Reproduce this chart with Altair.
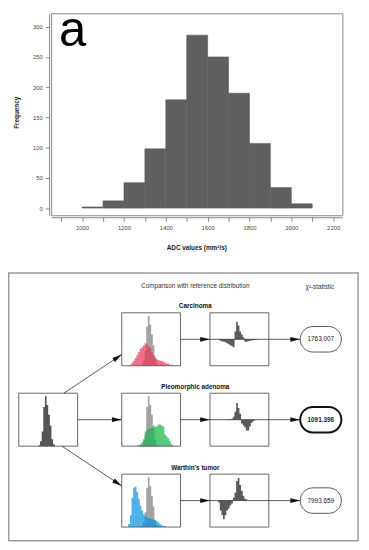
import math
import altair as alt
import pandas as pd

# ---------------- data ----------------
# Panel a: histogram of reference ADC values (bin width 100)
adc_bin_start = [1000, 1100, 1200, 1300, 1400, 1500, 1600, 1700, 1800, 1900, 2000]
adc_counts = [2, 12, 42, 98, 179, 286, 250, 190, 107, 34, 7]

# Panel b: miniature histograms (bin index, relative height)
ref_bin = [12, 13, 14, 15, 16, 17, 18, 19, 20, 21]
ref_val = [1, 5, 15, 40, 51, 42, 32, 21, 7, 2]

carc_bin = list(range(5, 31))
carc_val = [1, 3, 5, 8, 11, 14, 17, 19, 21, 23, 22, 20, 18, 14, 11, 9, 7, 6, 5, 5, 4, 3, 2, 2, 1, 1]

pleo_bin = list(range(9, 32))
pleo_val = [0.5, 1, 2, 4, 7, 12, 16, 18, 18, 19, 19, 20, 20, 22, 22, 21, 20, 12, 10, 8, 5, 2, 1]

wart_bin = list(range(4, 27))
wart_val = [3, 12, 30, 40, 41, 36, 29, 22, 17, 13, 11, 10, 9, 9, 8, 8, 7, 6, 5, 3, 2, 1, 1]

carc_diff_bin = list(range(5, 30))
carc_diff_val = [-0.5, -1.5, -2, -2.5, -3, -4, -5, -6, -7, -8, 8, 18, 14, 8, 5, 2,
                 -2.5, -2.5, -2, -1.5, -1.2, -1, -0.7, -0.5, -0.3]

pleo_diff_bin = list(range(10, 28))
pleo_diff_val = [-0.3, -0.5, -0.3, 1, 3, 8, 17, 12, 6, -4, -6, -8, -11, -11, -7, -3, -1.5, -0.5]

wart_diff_bin = list(range(5, 23))
wart_diff_val = [-2, -10, -15, -19, -15, -10, -8, -5, -3, 3, 8, 20, 23, 16, 10, 5, 2, 1]

chi2_values = ["1763.007", "1091.396", "7993.659"]
row_titles = ["Carcinoma", "Pleomorphic adenoma", "Warthin's tumor"]
x_ticks = list(range(900, 2201, 100))
y_ticks = [0, 50, 100, 150, 200, 250, 300]

# ---------------- layout (view pixel coordinates) ----------------
FONT = "Liberation Sans"
W, H = 297, 206
BOX_W, BOX_H = 60, 54
ROW_TOP = [305.5, 387.5, 470.0]
MID_X, RIGHT_X, LEFT_X = 72, 162, -33
OVAL_X0, OVAL_X1, OVAL_H = 254, 296, 26

df_a = pd.DataFrame({"lo": adc_bin_start,
                     "hi": [b + 100 for b in adc_bin_start],
                     "count": adc_counts})

hist_a = alt.Chart(df_a).mark_rect(color="#5f5f5f", stroke="#5f5f5f", strokeWidth=0.6).encode(
    x=alt.X("lo:Q",
            scale=alt.Scale(domain=[852, 2244], nice=False, zero=False),
            axis=alt.Axis(values=x_ticks, format="d",
                          labelExpr="datum.value % 200 == 0 ? datum.label : ''",
                          title="ADC values (mm²/s)", offset=2, tickSize=4,
                          labelPadding=4, titleX=148, titleY=30.5,
                          titleBaseline="middle", titleAlign="center",
                          labelFlush=False, labelOverlap=False)),
    x2="hi:Q",
    y=alt.Y("count:Q",
            scale=alt.Scale(domain=[-11.8, 322.2], nice=False, zero=False),
            axis=alt.Axis(values=y_ticks, title="Frequency", offset=2, tickSize=4,
                          labelPadding=3, titleX=-33, titleY=101, titleAngle=270,
                          titleBaseline="middle", titleAlign="center",
                          labelFlush=False, labelOverlap=False)),
    y2=alt.datum(0),
)


def one(text, x, y, size, weight="normal", align="center", baseline="middle", color="#222"):
    return alt.Chart(alt.Data(values=[{}])).mark_text(
        text=text, font=FONT, fontSize=size, fontWeight=weight, align=align,
        baseline=baseline, color=color
    ).encode(x=alt.value(x), y=alt.value(y))


label_a = one("a", 8, 33.3, 50, align="left", baseline="alphabetic", color="black")
label_b = one("b", -40.2, 311.3, 48, align="left", baseline="alphabetic", color="black")

frame_b = alt.Chart(alt.Data(values=[{}])).mark_rect(
    fillOpacity=0, stroke="#9a9a9a", strokeWidth=1.5
).encode(x=alt.value(-43.3), x2=alt.value(313), y=alt.value(265), y2=alt.value(538))

title_b = one("Comparison with reference distribution", 147, 278, 6.5, color="#333")
chi_b = one("χ²-statistic", 274, 279, 6.5, color="#333")
row_labels = [one(t, 147, top - 6.5, 6.5, weight="bold", color="#111")
              for t, top in zip(row_titles, ROW_TOP)]


def hist_df(bins, vals):
    # step outline: each bin start with its height, closed by the last bin's end at 0
    return pd.DataFrame({"b": list(bins) + [bins[-1] + 1], "v": list(vals) + [0]})


def mini(bins, vals, x0, top, ydom, color, opacity=1.0):
    return alt.Chart(hist_df(bins, vals)).mark_area(
        color=color, opacity=opacity, interpolate="step-after"
    ).encode(
        x=alt.X("b:Q", scale=alt.Scale(domain=[0, 36], range=[x0, x0 + BOX_W],
                                       nice=False, zero=False), axis=None),
        y=alt.Y("v:Q", scale=alt.Scale(domain=ydom, range=[top + BOX_H, top],
                                       nice=False, zero=False), axis=None),
        y2=alt.datum(0),
    )


minis = []
# reference distribution (left box)
minis.append(mini(ref_bin, ref_val, LEFT_X, ROW_TOP[1], [0, 54], "#555555"))
samples = [(carc_bin, carc_val, "#e8365a"), (pleo_bin, pleo_val, "#16b84a"),
           (wart_bin, wart_val, "#0a93e0")]
diffs = [(carc_diff_bin, carc_diff_val), (pleo_diff_bin, pleo_diff_val),
         (wart_diff_bin, wart_diff_val)]
for top, (sb, sv, col), (db, dv) in zip(ROW_TOP, samples, diffs):
    minis.append(mini(ref_bin, ref_val, MID_X, top, [0, 54], "#a3a3a3"))
    minis.append(mini(sb, sv, MID_X, top, [0, 54], col, 0.72))
    minis.append(mini(db, dv, RIGHT_X, top, [-27, 27], "#5a5a5a"))

box_rows = []
box_rows.append({"x": LEFT_X, "x2": LEFT_X + BOX_W, "y": ROW_TOP[1], "y2": ROW_TOP[1] + BOX_H})
for top in ROW_TOP:
    for bx in (MID_X, RIGHT_X):
        box_rows.append({"x": bx, "x2": bx + BOX_W, "y": top, "y2": top + BOX_H})
boxes = alt.Chart(pd.DataFrame(box_rows)).mark_rect(
    fillOpacity=0, stroke="#555555", strokeWidth=0.9
).encode(x=alt.X("x:Q", scale=None, axis=None), x2="x2:Q",
         y=alt.Y("y:Q", scale=None, axis=None), y2="y2:Q")

centers = [t + BOX_H / 2 for t in ROW_TOP]
seg = [
    (13, ROW_TOP[1], MID_X, 348),
    (LEFT_X + BOX_W, centers[1], MID_X, centers[1]),
    (11, ROW_TOP[1] + BOX_H, MID_X, 482),
]
for c in centers:
    seg.append((MID_X + BOX_W, c, OVAL_X0, c))
seg_df = pd.DataFrame(seg, columns=["x", "y", "x2", "y2"])
lines = alt.Chart(seg_df).mark_rule(color="#333333", strokeWidth=0.8).encode(
    x=alt.X("x:Q", scale=None, axis=None), x2="x2:Q",
    y=alt.Y("y:Q", scale=None, axis=None), y2="y2:Q")

heads = []
for (x0, y0, x1, y1) in seg[:3]:
    ang = math.degrees(math.atan2(y1 - y0, x1 - x0)) % 360
    heads.append({"x": x1, "y": y1, "ang": ang})
for c in centers:
    heads.append({"x": RIGHT_X, "y": c, "ang": 0})
    heads.append({"x": OVAL_X0, "y": c, "ang": 0})
arrowheads = alt.Chart(pd.DataFrame(heads)).mark_point(
    shape="M0,0L-1,-0.24L-1,0.24Z", filled=True, size=400, color="#111", opacity=1
).encode(x=alt.X("x:Q", scale=None, axis=None), y=alt.Y("y:Q", scale=None, axis=None),
         angle=alt.Angle("ang:Q", scale=None))

ovals = []
for i, (c, val) in enumerate(zip(centers, chi2_values)):
    bold = i == 1
    ovals.append(alt.Chart(alt.Data(values=[{}])).mark_rect(
        fill="white", stroke="#111" if bold else "#444", strokeWidth=2 if bold else 0.9,
        cornerRadius=13
    ).encode(x=alt.value(OVAL_X0), x2=alt.value(OVAL_X1),
             y=alt.value(c - OVAL_H / 2), y2=alt.value(c + OVAL_H / 2)))
    ovals.append(one(val, (OVAL_X0 + OVAL_X1) / 2, c, 6.5,
                     weight="bold" if bold else "normal", color="#222"))

chart = alt.layer(
    hist_a, label_a, frame_b, title_b, chi_b, *row_labels, *minis, boxes, lines,
    arrowheads, *ovals
).resolve_scale(x="independent", y="independent").properties(
    width=W, height=H,
    padding={"left": 44, "top": 0, "right": 19, "bottom": 334},
    autosize=alt.AutoSizeParams(type="none"),
    background="white",
).configure_view(stroke="#8a8a8a", strokeWidth=1).configure_axis(
    labelFont=FONT, labelFontSize=6, labelColor="#444", titleFont=FONT,
    titleFontSize=6.5, titleFontWeight="bold", titleColor="#222",
    tickColor="#666", domainColor="#666", grid=False, tickWidth=0.8, domainWidth=0.8
)

chart.save("out.html", embed_options={"renderer": "svg", "actions": False})
